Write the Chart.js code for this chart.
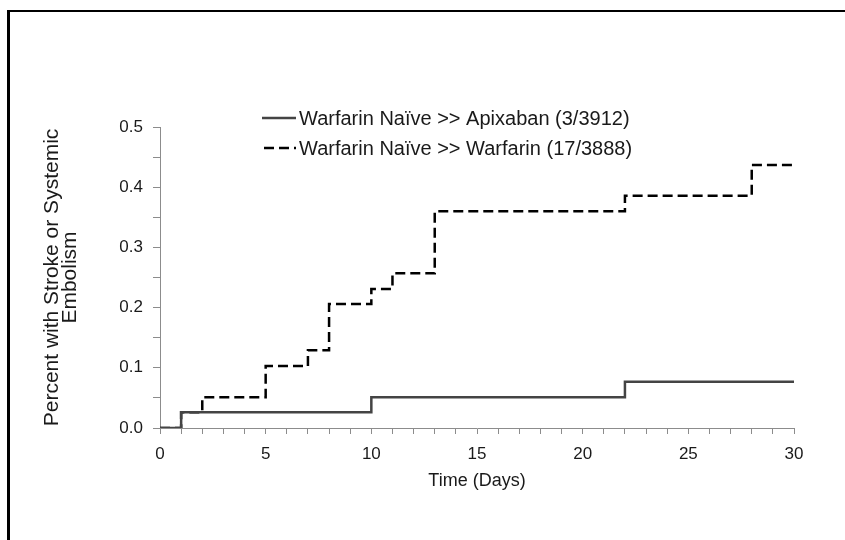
<!DOCTYPE html>
<html>
<head>
<meta charset="utf-8">
<script src="https://cdn.jsdelivr.net/npm/chart.js@4.4.1/dist/chart.umd.min.js"></script>
<style>
  html, body { margin: 0; padding: 0; background: #fff; }
  #wrap { position: relative; width: 845px; height: 540px; overflow: hidden; }
  #frame { position: absolute; left: 7px; top: 10px; width: 860px; height: 560px;
           border-left: 3px solid #000; border-top: 2px solid #000; }
  canvas { position: absolute; left: 0; top: 0; }
</style>
</head>
<body>
<div id="wrap">
  <div id="frame"></div>
  <canvas id="kmChart" width="845" height="540"></canvas>
</div>
<script>
// days at which the curve steps, and the cumulative percent from that day on
const apixabanDays = [0, 1, 10, 22, 30];
const apixabanPct = [0, 0.026, 0.051, 0.077, 0.077];
const warfarinDays = [0, 1, 2, 5, 7, 8, 10, 11, 13, 22, 28, 30];
const warfarinPct = [0, 0.026, 0.051, 0.103, 0.129, 0.206, 0.231, 0.257, 0.360, 0.386, 0.437, 0.437];

const seriesLabels = [
  'Warfarin Naïve >> Apixaban (3/3912)',
  'Warfarin Naïve >> Warfarin (17/3888)'
];
const xTitle = 'Time (Days)';
const yTitle = ['Percent with Stroke or Systemic', 'Embolism'];

const FONT = "'Liberation Sans', Arial, sans-serif";

function toPoints(days, pct) {
  return days.map((d, i) => ({ x: d, y: pct[i] }));
}

// legend drawn inside the plot, like the original
const innerLegend = {
  id: 'innerLegend',
  afterDatasetsDraw(chart) {
    const ctx = chart.ctx;
    const rows = [118, 148];
    ctx.save();
    chart.data.datasets.forEach((ds, i) => {
      const y = rows[i];
      ctx.beginPath();
      ctx.strokeStyle = ds.borderColor;
      ctx.lineWidth = 2.5;
      ctx.setLineDash(ds.borderDash || []);
      ctx.moveTo(i === 0 ? 262 : 264, y);
      ctx.lineTo(296, y);
      ctx.stroke();
      ctx.setLineDash([]);
      ctx.fillStyle = '#1a1a1a';
      ctx.font = '20px ' + FONT;
      ctx.textAlign = 'left';
      ctx.textBaseline = 'middle';
      ctx.fillText(ds.label, 299, y + 1);
    });
    ctx.restore();
  }
};

const ctx = document.getElementById('kmChart').getContext('2d');
new Chart(ctx, {
  type: 'line',
  data: {
    datasets: [
      {
        label: seriesLabels[0],
        data: toPoints(apixabanDays, apixabanPct),
        borderColor: '#444444',
        borderWidth: 2.5,
        stepped: 'before',
        pointRadius: 0,
        fill: false
      },
      {
        label: seriesLabels[1],
        data: toPoints(warfarinDays, warfarinPct),
        borderColor: '#000000',
        borderWidth: 2.5,
        borderDash: [10, 5],
        stepped: 'before',
        pointRadius: 0,
        fill: false
      }
    ]
  },
  options: {
    responsive: false,
    animation: false,
    layout: { padding: { left: 0, right: 51, top: 127, bottom: 0 } },
    plugins: {
      legend: { display: false },
      tooltip: { enabled: false }
    },
    scales: {
      x: {
        type: 'linear',
        min: 0,
        max: 30,
        afterFit: axis => { axis.height = 112; },
        border: { display: true, color: '#8c8c8c', width: 1 },
        grid: { drawOnChartArea: false, drawTicks: true, tickLength: 6, color: '#8c8c8c' },
        ticks: {
          stepSize: 1,
          autoSkip: false,
          maxRotation: 0,
          padding: 10,
          color: '#1a1a1a',
          font: { family: FONT, size: 17 },
          callback: v => (v % 5 === 0 ? String(v) : '')
        },
        title: {
          display: true,
          text: xTitle,
          color: '#1a1a1a',
          font: { family: FONT, size: 18, lineHeight: 1.2 },
          padding: { top: 0, bottom: 48 }
        }
      },
      y: {
        min: 0,
        max: 0.5,
        afterFit: axis => { axis.width = 160; },
        border: { display: true, color: '#8c8c8c', width: 1 },
        grid: { drawOnChartArea: false, drawTicks: true, tickLength: 7, color: '#8c8c8c' },
        ticks: {
          stepSize: 0.05,
          autoSkip: false,
          padding: 10,
          color: '#1a1a1a',
          font: { family: FONT, size: 17 },
          callback: v => (Math.round(v * 20) % 2 === 0 ? v.toFixed(1) : '')
        },
        title: {
          display: true,
          text: yTitle,
          color: '#1a1a1a',
          font: { family: FONT, size: 21, lineHeight: 0.86 },
          padding: { top: 43, bottom: 0 }
        }
      }
    }
  },
  plugins: [innerLegend]
});
</script>
</body>
</html>
